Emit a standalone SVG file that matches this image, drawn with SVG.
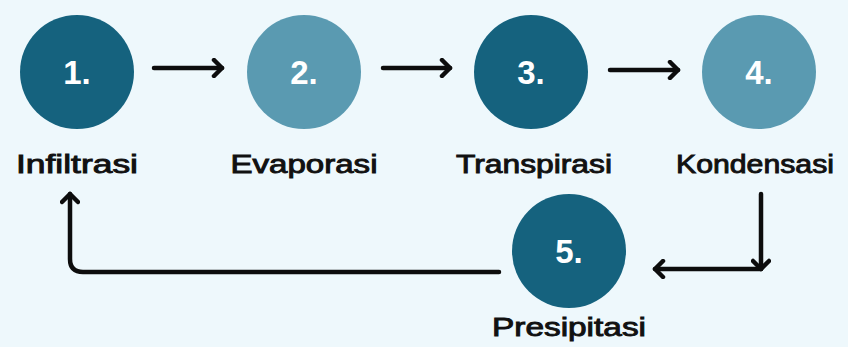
<svg xmlns="http://www.w3.org/2000/svg" width="848" height="347" viewBox="0 0 848 347">
<style>
.dark{fill:#15627e}
.light{fill:#5a9ab1}
.num{font-family:"Liberation Sans",Arial,sans-serif;font-weight:bold;font-size:33px;fill:#ffffff;text-anchor:middle}
.lbl{font-family:"Liberation Sans",Arial,sans-serif;font-size:25px;fill:#111111;stroke:#111111;stroke-width:0.9;text-anchor:middle}
.conn{fill:none;stroke:#0d0d0d;stroke-width:4.5;stroke-linecap:round;stroke-linejoin:round}
</style>
<defs>
<marker id="ah" viewBox="0 0 14 20" refX="11" refY="10" markerWidth="14" markerHeight="20" markerUnits="userSpaceOnUse" orient="auto">
<path d="M3,2 L11,10 L3,18" fill="none" stroke="#0d0d0d" stroke-width="4.5" stroke-linecap="round" stroke-linejoin="round"/>
</marker>
</defs>
<rect width="848" height="347" fill="#eef8fc"/>
<g id="connectors">
<path class="conn" d="M154,68 L222,68" marker-end="url(#ah)"/>
<path class="conn" d="M383,68 L450,68" marker-end="url(#ah)"/>
<path class="conn" d="M610,70 L678,70" marker-end="url(#ah)"/>
<path class="conn" d="M761,194 L761,269" marker-end="url(#ah)"/>
<path class="conn" d="M761,269 L655,269" marker-end="url(#ah)"/>
<path class="conn" d="M499,272 L83,272 Q70,272 70,259 L70,194" marker-end="url(#ah)"/>
</g>
<g id="node1">
<circle class="dark" cx="77" cy="72" r="57"/>
<text class="num" x="77" y="84">1.</text>
<text class="lbl" x="77" y="173" textLength="122" lengthAdjust="spacingAndGlyphs">Infiltrasi</text>
</g>
<g id="node2">
<circle class="light" cx="304" cy="72" r="57"/>
<text class="num" x="304" y="84">2.</text>
<text class="lbl" x="304" y="173" textLength="147" lengthAdjust="spacingAndGlyphs">Evaporasi</text>
</g>
<g id="node3">
<circle class="dark" cx="531" cy="72" r="57"/>
<text class="num" x="531" y="84">3.</text>
<text class="lbl" x="534" y="173" textLength="156" lengthAdjust="spacingAndGlyphs">Transpirasi</text>
</g>
<g id="node4">
<circle class="light" cx="759" cy="72" r="57"/>
<text class="num" x="759" y="84">4.</text>
<text class="lbl" x="755" y="173" textLength="158" lengthAdjust="spacingAndGlyphs">Kondensasi</text>
</g>
<g id="node5">
<circle class="dark" cx="569" cy="251" r="57"/>
<text class="num" x="569" y="263">5.</text>
<text class="lbl" x="569" y="336" textLength="154" lengthAdjust="spacingAndGlyphs">Presipitasi</text>
</g>
</svg>
